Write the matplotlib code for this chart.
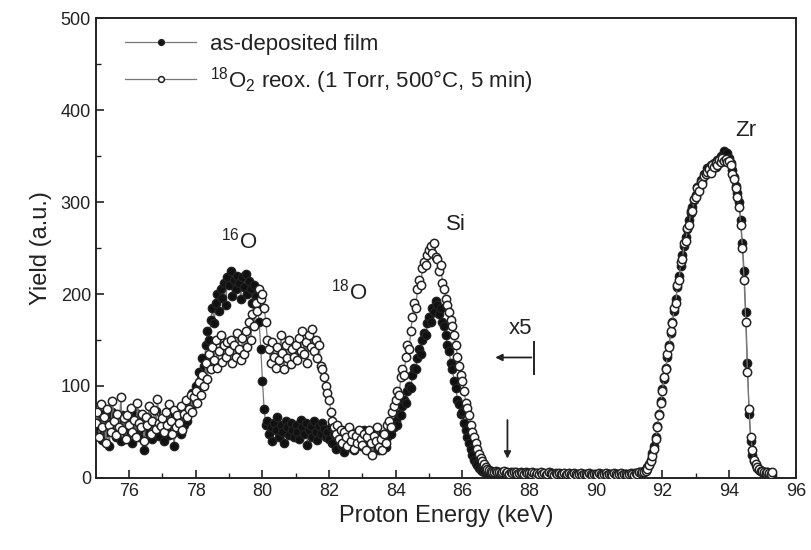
import numpy as np
import matplotlib
matplotlib.use("Agg")
import matplotlib.pyplot as plt

plt.rcParams['font.family'] = ['Liberation Sans', 'DejaVu Sans']
plt.rcParams['mathtext.default'] = 'regular'

# Proton energy grid (keV), 0.05 keV channels
energy = np.round(np.arange(75.0, 95.3001, 0.05), 2)

as_deposited = [
    62,48,55,70,41,58,66,50,35,60,72,53,45,63,57,40,68,52,59,47,
    55,64,38,50,71,58,44,62,53,30,57,66,49,60,42,56,73,51,46,61,
    54,40,63,58,47,66,52,35,60,71,55,48,64,58,70,62,80,76,92,88,
    100,96,115,108,130,122,145,160,150,172,185,168,190,200,182,205,196,212,188,218,
    210,225,198,215,205,220,212,195,218,208,222,200,214,205,190,210,198,185,170,140,
    105,75,58,62,48,55,40,60,52,66,45,58,50,38,62,55,47,60,52,44,
    58,50,42,63,55,48,60,36,52,57,45,62,50,41,56,48,60,53,45,50,
    42,55,38,48,32,50,44,36,52,28,46,40,34,50,42,30,48,38,45,35,
    40,52,33,45,38,28,47,36,50,42,30,44,38,48,34,44,50,48,58,55,
    62,58,70,68,78,85,82,95,100,98,112,120,118,130,140,135,150,158,155,168,
    175,170,185,180,192,188,178,185,170,165,155,145,138,125,118,105,98,85,80,70,
    72,60,52,45,38,32,25,20,16,14,11,9,8,6,5,6,4,5,3,4,
    4,3,5,4,2,3,5,4,3,2,4,3,5,2,3,4,2,3,4,3,
    3,2,4,3,5,2,3,4,2,3,3,4,2,3,5,2,4,3,2,3,
    2,3,4,2,3,2,4,3,2,3,4,2,3,2,3,4,2,3,3,2,
    3,2,3,4,2,3,2,3,4,2,3,3,2,4,3,2,3,2,4,3,
    3,4,3,5,4,5,6,7,6,8,9,12,15,20,27,35,45,57,70,84,
    97,108,120,132,145,158,170,182,195,208,220,231,242,252,262,271,280,288,295,302,
    308,316,315,324,322,331,330,337,334,340,336,343,338,346,343,350,347,355,350,353,
    348,342,335,327,318,310,300,280,255,225,180,125,70,40,25,18,14,11,9,8,
    7,6,5,6,4,5,3,
]

reoxidized = [
    60,72,45,80,55,66,38,75,58,50,84,62,47,70,55,88,52,65,42,68,
    58,76,50,63,45,82,60,55,70,40,66,58,78,48,62,74,53,86,60,57,
    65,50,72,58,80,62,48,74,55,68,60,78,52,70,85,66,75,90,72,88,
    95,82,104,90,112,100,125,108,135,118,142,128,150,120,138,155,126,145,132,148,
    138,150,125,145,132,158,140,128,152,135,160,142,170,150,178,165,190,182,205,195,
    200,185,170,150,140,125,148,132,120,142,128,155,136,118,145,130,150,124,140,132,
    145,128,152,138,160,135,148,125,155,142,162,138,150,130,145,122,118,110,100,92,
    85,72,62,55,48,58,42,52,38,50,45,35,55,40,48,32,46,38,52,42,
    36,48,30,44,52,38,25,46,40,55,34,42,30,48,38,58,62,55,72,78,
    85,95,90,110,118,112,132,145,140,160,175,190,185,205,215,210,228,235,232,242,
    248,252,245,255,240,238,225,232,212,205,195,188,180,172,165,155,145,132,122,112,
    105,95,82,76,68,58,50,44,38,32,26,22,18,15,12,10,9,8,7,6,
    8,6,7,5,6,8,5,7,4,6,5,7,6,4,5,6,5,4,6,5,
    5,4,6,5,3,5,4,6,4,5,3,4,6,5,4,3,5,4,5,4,
    4,5,3,4,5,4,3,5,4,3,4,5,3,4,4,3,5,4,3,4,
    4,3,5,4,3,4,5,3,4,4,3,5,4,3,4,5,3,4,4,3,
    4,5,4,3,5,4,6,5,7,6,8,10,14,18,24,32,42,55,68,82,
    95,110,118,135,142,160,168,185,190,210,215,235,238,255,258,272,275,290,290,303,
    305,315,312,322,320,328,330,333,336,332,340,338,342,340,346,344,348,345,347,344,
    345,340,330,325,315,305,295,275,250,215,170,115,75,45,30,20,15,12,10,8,
    8,6,5,7,5,4,6,
]

x_ticks = [76, 78, 80, 82, 84, 86, 88, 90, 92, 94, 96]
y_ticks = [0, 100, 200, 300, 400, 500]

fig = plt.figure(figsize=(8.12, 5.5), dpi=100)
ax = fig.add_axes([0.118, 0.131, 0.862, 0.836])

ax.plot(energy, as_deposited, color='#777777', lw=0.9, marker='o', ms=6,
        mfc='#111111', mec='#222222', mew=1.0,
        label='as-deposited film', zorder=2)
ax.plot(energy, reoxidized, color='#777777', lw=0.9, marker='o', ms=6,
        mfc='white', mec='#222222', mew=1.1,
        label='$^{18}$O$_2$ reox. (1 Torr, 500°C, 5 min)', zorder=3)

ax.set_xlim(75, 96)
ax.set_ylim(0, 500)
ax.set_xticks(x_ticks)
ax.set_yticks(y_ticks)
ax.set_xticks(np.arange(77, 96, 2), minor=True)
ax.set_yticks(np.arange(50, 500, 100), minor=True)
ax.tick_params(which='both', direction='in', top=False, right=False, labelsize=13,
               color='#222222', labelcolor='#222222')
ax.tick_params(which='major', length=6, width=1.2)
ax.tick_params(which='minor', length=3.5, width=1.0)
for s in ax.spines.values():
    s.set_linewidth(1.4)
    s.set_color('#222222')

ax.set_xlabel('Proton Energy (keV)', fontsize=17, labelpad=4, color='#222222')
ax.set_ylabel('Yield (a.u.)', fontsize=17, labelpad=6, color='#222222')

leg = ax.legend(loc='upper left', frameon=False, fontsize=16, handlelength=3.2,
                borderaxespad=0.3, labelspacing=0.45, handletextpad=0.6,
                markerscale=0.7, bbox_to_anchor=(0.02, 1.0))
for t in leg.get_texts():
    t.set_color('#222222')

ax.text(79.3, 258, '$^{16}$O', fontsize=16, ha='center', va='center', color='#222222')
ax.text(82.6, 203, '$^{18}$O', fontsize=16, ha='center', va='center', color='#222222')
ax.text(85.8, 276, 'Si', fontsize=16, ha='center', va='center', color='#222222')
ax.text(94.5, 378, 'Zr', fontsize=16, ha='center', va='center', color='#222222')
ax.text(87.75, 162, 'x5', fontsize=16, ha='center', va='center', color='#222222')

ax.annotate('', xy=(86.9, 131), xytext=(88.15, 131),
            arrowprops=dict(arrowstyle='-|>', color='#222222', lw=1.3, mutation_scale=10))
ax.plot([88.15, 88.15], [113, 148], color='#222222', lw=1.4)
ax.annotate('', xy=(87.35, 18), xytext=(87.35, 66),
            arrowprops=dict(arrowstyle='-|>', color='#222222', lw=1.3, mutation_scale=10))

fig.savefig('out.png', dpi=100)
